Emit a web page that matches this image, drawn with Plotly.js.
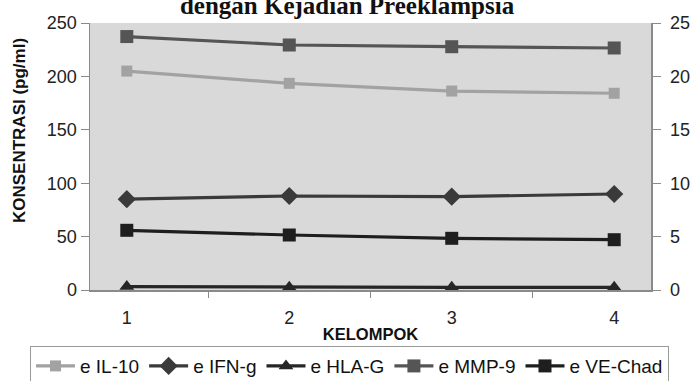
<!DOCTYPE html>
<html>
<head>
<meta charset="utf-8">
<script src="https://cdn.plot.ly/plotly-3.0.1.min.js"></script>
<style>html,body{margin:0;padding:0;background:#fff;}#chart{width:690px;height:381px;}</style>
</head>
<body>
<div id="chart"></div>
<script>
var categories = ["1", "2", "3", "4"];
var il10 = [205, 193.5, 186.3, 184.2];
var ifng = [85.0, 88.0, 87.4, 89.9];
var hlag = [3.2, 2.6, 2.5, 2.5];
var mmp9 = [237.3, 229.4, 227.8, 226.6];
var vechad = [5.59, 5.15, 4.84, 4.71];   // right axis
var leftTicks = [0, 50, 100, 150, 200, 250];
var rightTicks = [0, 5, 10, 15, 20, 25];
var names = ["e IL-10", "e IFN-g", "e HLA-G", "e MMP-9", "e VE-Chad"];

function tr(name, y, color, symbol, size, axis) {
  return {
    type: "scatter", mode: "lines+markers", name: name,
    x: categories, y: y, yaxis: axis || "y",
    line: {color: color, width: 3.2},
    marker: {color: color, symbol: symbol, size: size}
  };
}

var data = [
  tr(names[0], il10, "#a2a2a2", "square", 11),
  tr(names[1], ifng, "#3a3a3a", "diamond", 14),
  tr(names[2], hlag, "#262626", "triangle-up", 13),
  tr(names[3], mmp9, "#555555", "square", 13),
  tr(names[4], vechad, "#1e1e1e", "square", 13, "y2")
];

var tickFont = {family: "Liberation Sans, Arial, sans-serif", size: 18, color: "#222"};
var layout = {
  width: 690, height: 381,
  margin: {l: 90, r: 39, t: 23, b: 91, autoexpand: false},
  paper_bgcolor: "#ffffff",
  plot_bgcolor: "#d9d9d9",
  showlegend: true,
  title: {
    text: "dengan Kejadian Preeklampsia",
    font: {family: "Liberation Serif, Times New Roman, serif", size: 25, color: "#111", weight: "bold"},
    x: 0.503, xanchor: "center", y: 0.987, yanchor: "middle", yref: "container"
  },
  annotations: [{
    text: "<b>KONSENTRASI (pg/ml)</b>", textangle: -90, showarrow: false,
    xref: "paper", yref: "paper", x: -0.1266, y: 0.599, xanchor: "center", yanchor: "middle",
    font: {family: "Liberation Sans, Arial, sans-serif", size: 17, color: "#111"}
  }],
  xaxis: {
    type: "category",
    title: {text: "<b>KELOMPOK</b>", font: {family: "Liberation Sans, Arial, sans-serif", size: 16.5, color: "#111"}, standoff: 1},
    tickfont: tickFont, ticklabelstandoff: 11,
    showline: true, linecolor: "#8a8a8a", linewidth: 1.5,
    ticks: "outside", tickson: "boundaries", ticklen: 6, tickcolor: "#8a8a8a",
    showgrid: false, zeroline: false
  },
  yaxis: {
    range: [0, 250], tickvals: leftTicks, ticktext: leftTicks.map(String),
    tickfont: tickFont,
    showline: true, linecolor: "#8a8a8a", linewidth: 1.5,
    ticks: "outside", ticklen: 8, tickcolor: "#8a8a8a",
    showgrid: false, zeroline: false
  },
  yaxis2: {
    range: [0, 25], tickvals: rightTicks, ticktext: rightTicks.map(String),
    overlaying: "y", side: "right",
    tickfont: tickFont, ticklabelstandoff: 6,
    showline: true, linecolor: "#8a8a8a", linewidth: 1.5,
    ticks: "outside", ticklen: 8, tickcolor: "#8a8a8a",
    showgrid: false, zeroline: false
  },
  legend: {
    orientation: "h", x: -0.107, xanchor: "left", y: -0.21, yanchor: "top",
    bgcolor: "#ffffff", bordercolor: "#999999", borderwidth: 1,
    font: {family: "Liberation Sans, Arial, sans-serif", size: 19, color: "#111"},
    tracegroupgap: 0, itemwidth: 39
  }
};

Plotly.newPlot("chart", data, layout, {displayModeBar: false, staticPlot: true});
</script>
</body>
</html>
